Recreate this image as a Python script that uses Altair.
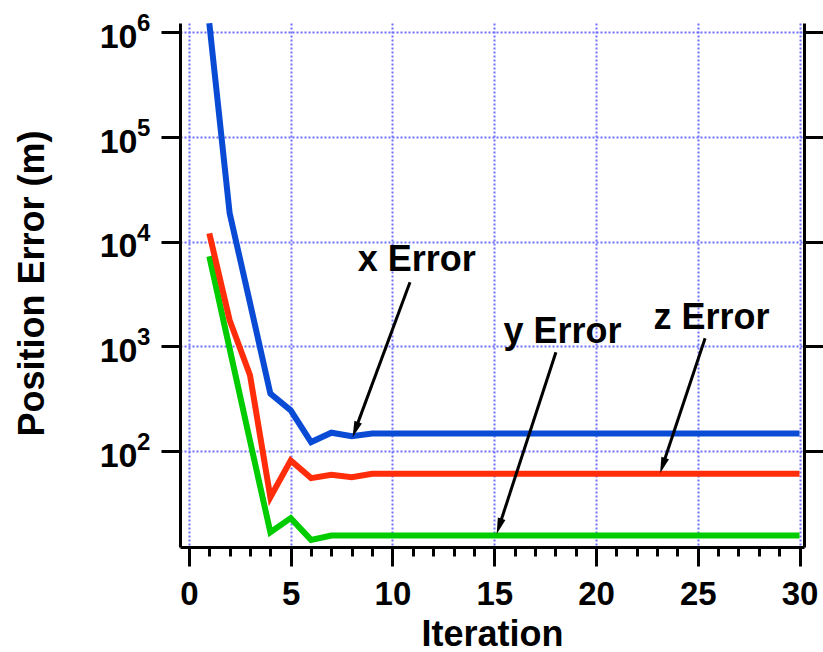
import math
import altair as alt
import pandas as pd

# ---------------- data ----------------
iterations = list(range(1, 31))
x_error = [1.22e6, 18700, 2600, 354, 245, 122, 150, 139, 147, 147,
           147, 147, 147, 147, 147, 147, 147, 147, 147, 147,
           147, 147, 147, 147, 147, 147, 147, 147, 147, 147]
y_error = [7260, 950, 125, 16.8, 22.9, 14.2, 15.6, 15.6, 15.6, 15.6,
           15.6, 15.6, 15.6, 15.6, 15.6, 15.6, 15.6, 15.6, 15.6, 15.6,
           15.6, 15.6, 15.6, 15.6, 15.6, 15.6, 15.6, 15.6, 15.6, 15.6]
z_error = [12000, 1780, 530, 36.3, 81.5, 55.2, 59.4, 56.4, 60.7, 60.7,
           60.7, 60.7, 60.7, 60.7, 60.7, 60.7, 60.7, 60.7, 60.7, 60.7,
           60.7, 60.7, 60.7, 60.7, 60.7, 60.7, 60.7, 60.7, 60.7, 60.7]

x_tick_values = list(range(0, 31))
y_exponents = [2, 3, 4, 5, 6]

annotation_labels = ["x Error", "y Error", "z Error"]
label_iter = [11.19, 18.35, 25.68]
label_value = [5260, 1077, 1466]
tail_iter = [10.86, 18.03, 25.36]
tail_value = [4100, 879, 1195]
tip_iter = [8.04, 15.12, 23.15]
tip_value = [136, 16.2, 61.6]

# ---------------- layout / style ----------------
W, H = 624, 524
X_DOMAIN = [-0.44, 30.22]
Y_DOMAIN = [12.14, 1.227e6]
FONT = "Liberation Sans"
BLUE, GREEN, RED = "#0a4bd6", "#00cc00", "#ff2d0a"
GRID = "#6f6fff"


def px(x):
    return (x - X_DOMAIN[0]) / (X_DOMAIN[1] - X_DOMAIN[0]) * W


def py(v):
    l0, l1 = math.log10(Y_DOMAIN[0]), math.log10(Y_DOMAIN[1])
    return (l1 - math.log10(v)) / (l1 - l0) * H


rows = []
for lab, lx, lv, tx, tv, hx, hv in zip(annotation_labels, label_iter, label_value,
                                       tail_iter, tail_value, tip_iter, tip_value):
    dx, dy = px(hx) - px(tx), py(hv) - py(tv)
    L = math.hypot(dx, dy)
    t = 1 - 12 / L
    ex = tx + (hx - tx) * t
    ev = 10 ** (math.log10(tv) + (math.log10(hv) - math.log10(tv)) * t)
    ang = math.degrees(math.atan2(dx, -dy)) % 360
    rows.append(dict(label=lab, lx=lx, lv=lv, tx=tx, tv=tv, hx=hx, hv=hv,
                     ex=ex, ev=ev, angle=ang))
ann = pd.DataFrame(rows)

df = pd.DataFrame({"iter": iterations, "x": x_error, "y": y_error, "z": z_error})
sup = pd.DataFrame({"value": [10 ** e for e in y_exponents],
                    "exp": [str(e) for e in y_exponents]})

xs = alt.Scale(domain=X_DOMAIN, nice=False, zero=False)
ys = alt.Scale(type="log", domain=Y_DOMAIN, nice=False)

major = "datum.value % 5 === 0"
x_axis = alt.Axis(
    values=x_tick_values, grid=True, gridColor=GRID, gridDash=[2, 2], gridWidth=2,
    gridOpacity={"condition": {"test": major, "value": 1}, "value": 0},
    tickSize={"condition": {"test": major, "value": 19}, "value": 9},
    tickWidth=3, tickColor="black", domainColor="black", domainWidth=3,
    labelExpr=f"{major} ? datum.label : ''", labelFont=FONT, labelFontSize=33,
    labelFontWeight="bold", labelColor="black", labelBaseline="alphabetic",
    labelPadding=38, labelFlush=False, labelOverlap=False,
    title="Iteration", titleFont=FONT, titleFontSize=36, titleFontWeight="bold",
    titleColor="black", titleX=W / 2, titleY=98, titleBaseline="alphabetic",
    titleAlign="center",
)
y_left = alt.Axis(
    values=[10 ** e for e in y_exponents], grid=True, gridColor=GRID, gridDash=[2, 2],
    gridWidth=2, tickSize=19, tickWidth=3, tickColor="black", domainColor="black",
    domainWidth=3, labelExpr="'10'", labelFont=FONT, labelFontSize=34,
    labelFontWeight="bold", labelColor="black", labelBaseline="alphabetic",
    labelOffset=15, labelPadding=24, labelFlush=False, labelOverlap=False,
    title="Position Error (m)", titleFont=FONT, titleFontSize=36,
    titleFontWeight="bold", titleColor="black", titleX=-137, titleY=260,
    titleAngle=270, titleBaseline="alphabetic", titleAlign="center",
)
y_right = alt.Axis(
    orient="right", values=[10 ** e for e in y_exponents], grid=False, labels=False,
    title=None, tickSize=19, tickWidth=3, tickColor="black", domainColor="black",
    domainWidth=3,
)

base = alt.Chart(df)


def line(col, color, yaxis):
    return base.mark_line(color=color, strokeWidth=6, clip=True).encode(
        x=alt.X("iter:Q", scale=xs, axis=x_axis),
        y=alt.Y(f"{col}:Q", scale=ys, axis=yaxis),
    )


blue = line("x", BLUE, y_left)
green = line("y", GREEN, y_right)
red = line("z", RED, None)

sup_text = alt.Chart(sup).mark_text(
    font=FONT, fontSize=24, fontWeight="bold", align="left", baseline="alphabetic",
    dy=-1, color="black",
).encode(
    x=alt.value(-43),
    y=alt.Y("value:Q", scale=ys, axis=None),
    text="exp:N",
)

labels = alt.Chart(ann).mark_text(
    font=FONT, fontSize=36, fontWeight="bold", align="center", baseline="alphabetic",
    color="black",
).encode(
    x=alt.X("lx:Q", scale=xs, axis=x_axis),
    y=alt.Y("lv:Q", scale=ys, axis=None),
    text="label:N",
)

shafts = alt.Chart(ann).mark_rule(color="black", strokeWidth=3).encode(
    x=alt.X("tx:Q", scale=xs, axis=x_axis),
    y=alt.Y("tv:Q", scale=ys, axis=None),
    x2="ex:Q",
    y2="ev:Q",
)

heads = alt.Chart(ann).mark_point(
    shape="M0,0L0.25,1L-0.25,1Z", filled=True, size=1024, color="black",
    opacity=1, strokeWidth=0,
).encode(
    x=alt.X("hx:Q", scale=xs, axis=x_axis),
    y=alt.Y("hv:Q", scale=ys, axis=None),
    angle=alt.Angle("angle:Q", scale=None),
)

chart = alt.layer(blue, green, red, shafts, heads, labels, sup_text).resolve_axis(
    y="independent"
).properties(
    width=W, height=H, autosize="none",
    padding={"left": 180, "top": 23, "right": 19, "bottom": 105},
    background="white",
).configure_view(stroke=None)

chart.save("out.html", embed_options={"renderer": "svg", "actions": False})
